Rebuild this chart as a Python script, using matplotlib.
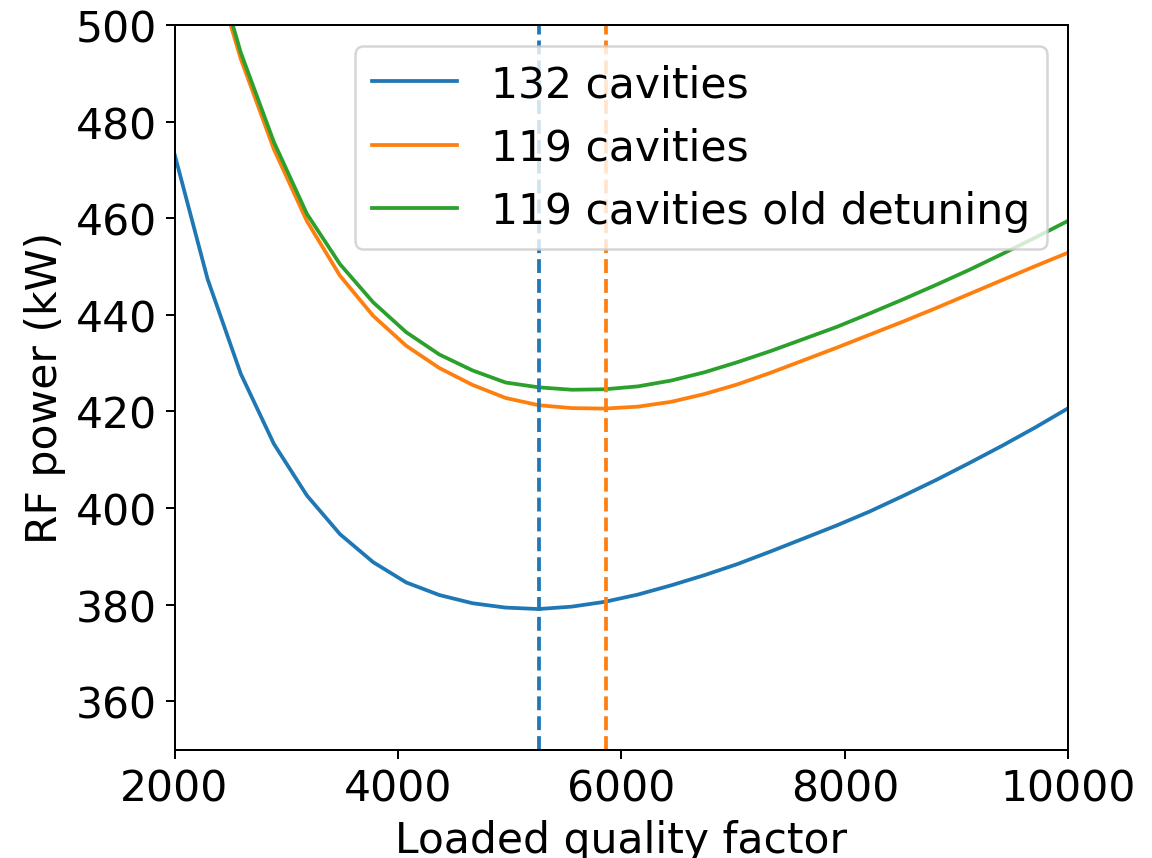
import matplotlib
matplotlib.use("Agg")
import matplotlib.pyplot as plt

# loaded quality factor grid
q_loaded = [2000, 2296, 2593, 2889, 3185, 3481, 3778, 4074, 4370, 4667,
            4963, 5259, 5556, 5852, 6148, 6444, 6741, 7037, 7333, 7630,
            7926, 8222, 8519, 8815, 9111, 9407, 9704, 10000]

# RF power (kW)
p_132 = [473.3, 447.4, 427.8, 413.3, 402.6, 394.6, 388.8, 384.6, 382.0, 380.3,
         379.4, 379.1, 379.6, 380.6, 382.1, 384.0, 386.1, 388.4, 391.0, 393.7,
         396.4, 399.3, 402.5, 405.8, 409.3, 412.9, 416.7, 420.7]
p_119 = [548.0, 516.0, 493.0, 474.3, 459.4, 448.1, 439.8, 433.6, 429.0, 425.5,
         422.8, 421.3, 420.7, 420.6, 421.0, 422.0, 423.6, 425.6, 428.0, 430.6,
         433.2, 435.9, 438.6, 441.4, 444.3, 447.2, 450.1, 452.9]
p_119_old = [550.0, 518.0, 494.3, 475.8, 460.9, 450.5, 442.6, 436.4, 431.8, 428.5,
             426.0, 425.0, 424.5, 424.6, 425.2, 426.4, 428.1, 430.2, 432.5, 435.0,
             437.5, 440.3, 443.2, 446.2, 449.3, 452.6, 456.0, 459.5]

# optimum loaded Q markers
q_opt_132 = 5265
q_opt_119 = 5858

labels = ["132 cavities", "119 cavities", "119 cavities old detuning"]

plt.rcParams["font.size"] = 17

fig = plt.figure(figsize=(6.4, 4.772), dpi=180)
ax = fig.add_axes([0.1515, 0.1262, 0.7759, 0.8435])

ax.plot(q_loaded, p_132, color="C0", label=labels[0])
ax.plot(q_loaded, p_119, color="C1", label=labels[1])
ax.plot(q_loaded, p_119_old, color="C2", label=labels[2])
ax.axvline(q_opt_132, color="C0", linestyle="--")
ax.axvline(q_opt_119, color="C1", linestyle="--")

ax.set_xlim(2000, 10000)
ax.set_ylim(350, 500)
ax.set_xticks([2000, 4000, 6000, 8000, 10000])
ax.set_yticks([360, 380, 400, 420, 440, 460, 480, 500])
ax.set_xlabel("Loaded quality factor")
ax.set_ylabel("RF power (kW)")
ax.legend(loc="upper right")

fig.savefig("out.png", dpi=180)
